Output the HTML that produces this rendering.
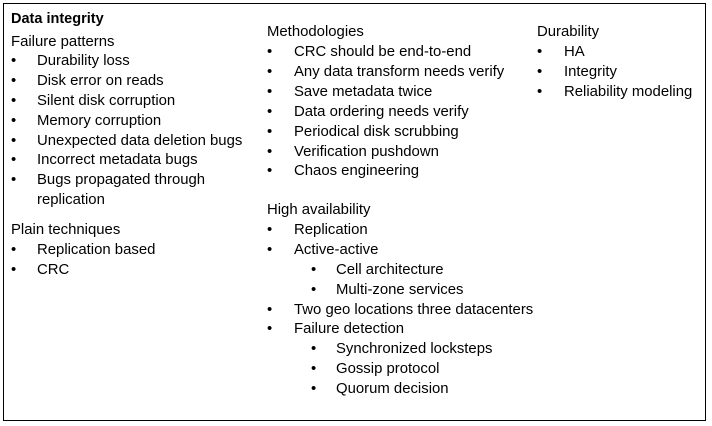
<!DOCTYPE html>
<html><head><style>
body{margin:0;width:712px;height:426px;background:#fff;position:relative;overflow:hidden;font-family:"Liberation Sans",sans-serif;font-size:14.9px;color:#000}
.b{position:absolute;left:3px;top:3px;width:703px;height:418px;border:1.5px solid #000;box-sizing:border-box}
.l{position:absolute;line-height:20px;white-space:nowrap;margin-top:1px}
</style></head><body>
<div class="b"></div>
<div class="l" style="left:11px;top:8px;font-weight:bold;font-size:14.5px">Data integrity</div>
<div class="l" style="left:11px;top:31px">Failure patterns</div>
<div class="l" style="left:11px;top:50px">•</div><div class="l" style="left:37px;top:50px">Durability loss</div>
<div class="l" style="left:11px;top:70px">•</div><div class="l" style="left:37px;top:70px">Disk error on reads</div>
<div class="l" style="left:11px;top:90px">•</div><div class="l" style="left:37px;top:90px">Silent disk corruption</div>
<div class="l" style="left:11px;top:110px">•</div><div class="l" style="left:37px;top:110px">Memory corruption</div>
<div class="l" style="left:11px;top:130px">•</div><div class="l" style="left:37px;top:130px">Unexpected data deletion bugs</div>
<div class="l" style="left:11px;top:149px">•</div><div class="l" style="left:37px;top:149px">Incorrect metadata bugs</div>
<div class="l" style="left:11px;top:169px">•</div><div class="l" style="left:37px;top:169px">Bugs propagated through</div>
<div class="l" style="left:37px;top:189px">replication</div>
<div class="l" style="left:11px;top:219px">Plain techniques</div>
<div class="l" style="left:11px;top:239px">•</div><div class="l" style="left:37px;top:239px">Replication based</div>
<div class="l" style="left:11px;top:259px">•</div><div class="l" style="left:37px;top:259px">CRC</div>

<div class="l" style="left:267px;top:21px">Methodologies</div>
<div class="l" style="left:267px;top:41px">•</div><div class="l" style="left:294px;top:41px">CRC should be end-to-end</div>
<div class="l" style="left:267px;top:61px">•</div><div class="l" style="left:294px;top:61px">Any data transform needs verify</div>
<div class="l" style="left:267px;top:81px">•</div><div class="l" style="left:294px;top:81px">Save metadata twice</div>
<div class="l" style="left:267px;top:101px">•</div><div class="l" style="left:294px;top:101px">Data ordering needs verify</div>
<div class="l" style="left:267px;top:121px">•</div><div class="l" style="left:294px;top:121px">Periodical disk scrubbing</div>
<div class="l" style="left:267px;top:141px">•</div><div class="l" style="left:294px;top:141px">Verification pushdown</div>
<div class="l" style="left:267px;top:160px">•</div><div class="l" style="left:294px;top:160px">Chaos engineering</div>
<div class="l" style="left:267px;top:199px">High availability</div>
<div class="l" style="left:267px;top:219px">•</div><div class="l" style="left:294px;top:219px">Replication</div>
<div class="l" style="left:267px;top:239px">•</div><div class="l" style="left:294px;top:239px">Active-active</div>
<div class="l" style="left:311px;top:259px">•</div><div class="l" style="left:336px;top:259px">Cell architecture</div>
<div class="l" style="left:311px;top:279px">•</div><div class="l" style="left:336px;top:279px">Multi-zone services</div>
<div class="l" style="left:267px;top:299px">•</div><div class="l" style="left:294px;top:299px">Two geo locations three datacenters</div>
<div class="l" style="left:267px;top:318px">•</div><div class="l" style="left:294px;top:318px">Failure detection</div>
<div class="l" style="left:311px;top:338px">•</div><div class="l" style="left:336px;top:338px">Synchronized locksteps</div>
<div class="l" style="left:311px;top:358px">•</div><div class="l" style="left:336px;top:358px">Gossip protocol</div>
<div class="l" style="left:311px;top:378px">•</div><div class="l" style="left:336px;top:378px">Quorum decision</div>

<div class="l" style="left:537px;top:21px">Durability</div>
<div class="l" style="left:537px;top:41px">•</div><div class="l" style="left:564px;top:41px">HA</div>
<div class="l" style="left:537px;top:61px">•</div><div class="l" style="left:564px;top:61px">Integrity</div>
<div class="l" style="left:537px;top:81px">•</div><div class="l" style="left:564px;top:81px">Reliability modeling</div>
</body></html>
